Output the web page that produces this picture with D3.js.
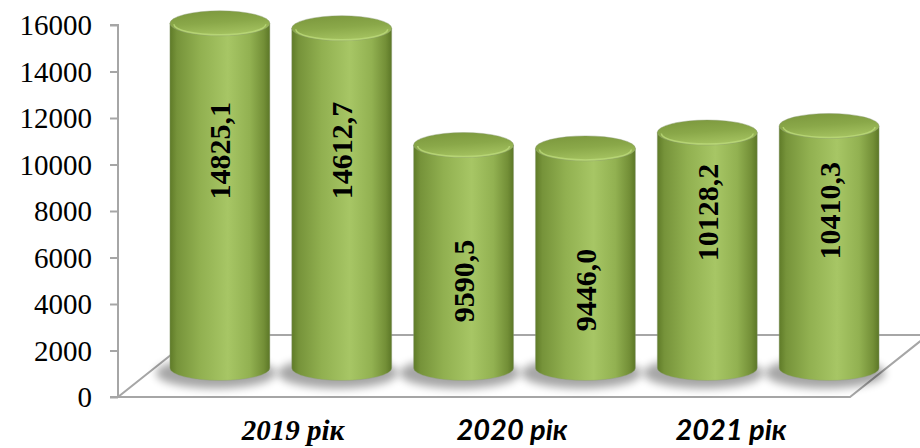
<!DOCTYPE html>
<html>
<head>
<meta charset="utf-8">
<script src="https://cdn.jsdelivr.net/npm/d3@7"></script>
<style>
  body { margin: 0; background: #fff; }
</style>
</head>
<body>
<script>
// data
const years = ['2019 рік', '2020 рік', '2021 рік'];
const values = [14825.1, 14612.7, 9590.5, 9446.0, 10128.2, 10410.3];
const valueLabels = ['14825,1', '14612,7', '9590,5', '9446,0', '10128,2', '10410,3'];
const yTicks = [0, 2000, 4000, 6000, 8000, 10000, 12000, 14000, 16000];

// where each value label sits, as a share of its bar height
const labelFrac = [0.63, 0.64, 0.39, 0.355, 0.66, 0.65];

const W = 920, H = 448;
const depthX = 78, depthY = -62;   // floor depth
const barLift = 29;                // bars stand in the middle of the floor
const ry = 12.5;

let svg = d3.select('body').append('svg').attr('width', W).attr('height', H);
let defs = svg.append('defs');

let bodyGrad = defs.append('linearGradient').attr('id', 'cylBody')
  .attr('x1', 0).attr('x2', 1).attr('y1', 0).attr('y2', 0);
[[0, '#5f7b28'], [0.07, '#76933a'], [0.3, '#91b050'], [0.58, '#a7c665'],
 [0.8, '#92b151'], [0.94, '#738f37'], [1, '#5c7727']].forEach(s => {
  bodyGrad.append('stop').attr('offset', s[0]).attr('stop-color', s[1]);
});

let topGrad = defs.append('linearGradient').attr('id', 'cylTop')
  .attr('x1', 0).attr('x2', 0.3).attr('y1', 0).attr('y2', 1);
[[0, '#7a963c'], [0.55, '#8aa849'], [1, '#a2c05e']].forEach(s => {
  topGrad.append('stop').attr('offset', s[0]).attr('stop-color', s[1]);
});

defs.append('filter').attr('id', 'soft').attr('x', '-50%').attr('y', '-100%')
  .attr('width', '200%').attr('height', '300%')
  .append('feGaussianBlur').attr('stdDeviation', 4);

let y = d3.scaleLinear().domain([0, 16000]).range([397, 25]);
let x = d3.scaleBand().domain(d3.range(values.length)).range([148, 901])
  .paddingInner(0.18).paddingOuter(0.18);
let xl = d3.scalePoint().domain(years).range([293, 731]);

// floor
let fx0 = 118, fx1 = 850, fy = y(0);
svg.append('path')
  .attr('d', `M${fx0},${fy} L${fx1},${fy} L${fx1 + depthX},${fy + depthY} L${fx0 + depthX},${fy + depthY} Z`)
  .attr('fill', '#fff')
  .attr('stroke', '#a6a6a6')
  .attr('stroke-width', 2);

// y axis
let yAxis = d3.axisLeft(y).tickValues(yTicks).tickSize(8).tickPadding(18).tickFormat(d3.format('d'));
let ya = svg.append('g').attr('transform', `translate(${fx0},0)`).call(yAxis);
ya.select('.domain').attr('stroke', '#a6a6a6').attr('stroke-width', 2).attr('d', `M-8,${y(16000)}H0V${y(0)}H-8`);
ya.selectAll('.tick line').attr('stroke', '#a6a6a6').attr('stroke-width', 2);
ya.selectAll('.tick text')
  .attr('font-family', '"Liberation Serif", "Times New Roman", serif')
  .attr('font-size', '29px')
  .attr('fill', '#000')
  .attr('dy', '0.34em');

let base = y(0) - barLift;

// shadows
svg.selectAll('ellipse.shadow').data(values).enter().append('ellipse')
  .attr('class', 'shadow')
  .attr('cx', (d, i) => x(i) + x.bandwidth() / 2 - 4)
  .attr('cy', base + 5)
  .attr('rx', x.bandwidth() / 2 + 10)
  .attr('ry', ry + 3)
  .attr('fill', '#000')
  .attr('opacity', 0.35)
  .attr('filter', 'url(#soft)');

// cylinders
let cyl = svg.selectAll('g.cyl').data(values).enter().append('g').attr('class', 'cyl');

cyl.append('path')
  .attr('d', (d, i) => {
    let l = x(i), r = x(i) + x.bandwidth(), t = y(d) - barLift;
    return `M${l},${t} L${l},${base} A${x.bandwidth() / 2},${ry} 0 0 0 ${r},${base} L${r},${t} Z`;
  })
  .attr('fill', 'url(#cylBody)')
  .attr('stroke', '#8c9a78')
  .attr('stroke-opacity', 0.5)
  .attr('stroke-width', 0.8);

cyl.append('ellipse')
  .attr('cx', (d, i) => x(i) + x.bandwidth() / 2)
  .attr('cy', d => y(d) - barLift)
  .attr('rx', x.bandwidth() / 2)
  .attr('ry', ry)
  .attr('fill', 'url(#cylTop)')
  .attr('stroke', '#8c9a78')
  .attr('stroke-opacity', 0.5)
  .attr('stroke-width', 0.8);

// light rim on the front of the top
cyl.append('path')
  .attr('d', (d, i) => {
    let rx = x.bandwidth() / 2 - 4, cx = x(i) + x.bandwidth() / 2, cy = y(d) - barLift + 1;
    return `M${cx - rx},${cy} A${rx},${ry - 2} 0 0 0 ${cx + rx},${cy}`;
  })
  .attr('fill', 'none')
  .attr('stroke', '#bcd97a')
  .attr('stroke-width', 1.5)
  .attr('opacity', 0.8);

// value labels
cyl.append('text')
  .attr('transform', (d, i) => {
    let cx = x(i) + x.bandwidth() / 2;
    let cy = base - (base - (y(d) - barLift)) * labelFrac[i];
    return `translate(${cx},${cy}) rotate(-90)`;
  })
  .attr('text-anchor', 'middle')
  .attr('dy', '0.35em')
  .attr('font-family', '"Liberation Serif", "Times New Roman", serif')
  .attr('font-weight', 'bold')
  .attr('font-size', '30px')
  .attr('fill', '#000')
  .text((d, i) => valueLabels[i]);

// category labels
svg.selectAll('text.cat').data(years).enter().append('text')
  .attr('class', 'cat')
  .attr('x', d => xl(d))
  .attr('y', 440)
  .attr('text-anchor', 'middle')
  .attr('font-family', (d, i) => i === 0 ? '"Liberation Serif", serif' : 'Lato, "Open Sans", sans-serif')
  .attr('font-size', (d, i) => i === 0 ? '29px' : '29px')
  .attr('font-weight', 'bold')
  .attr('font-style', 'italic')
  .attr('fill', '#000')
  .text(d => d);
</script>
</body>
</html>
